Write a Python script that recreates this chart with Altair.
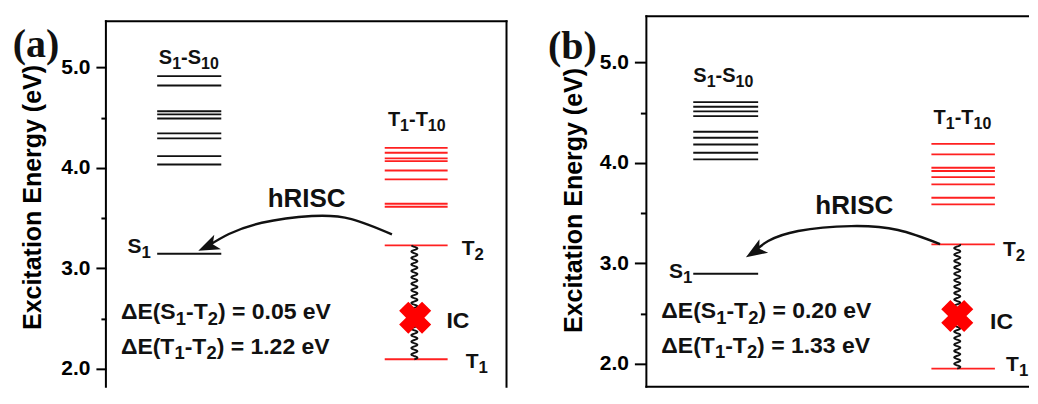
import re
import altair as alt
import numpy as np
import pandas as pd

# ---------------- data (eV) ----------------
# panel (a)
a_S_upper = [4.913, 4.820, 4.564, 4.532, 4.492, 4.343, 4.293, 4.117, 4.034]
a_S1 = 3.145
a_T_upper = [4.199, 4.150, 4.094, 4.067, 3.974, 3.885, 3.642, 3.612]
a_T2 = 3.228
a_T1 = 2.094
a_dE = ["ΔE(S_1-T_2) = 0.05 eV", "ΔE(T_1-T_2) = 1.22 eV"]

# panel (b)
b_S_upper = [4.604, 4.558, 4.512, 4.465, 4.309, 4.249, 4.183, 4.100, 4.034]
b_S1 = 2.896
b_T_upper = [4.189, 4.084, 3.951, 3.918, 3.858, 3.785, 3.652, 3.586]
b_T2 = 3.188
b_T1 = 1.951
b_dE = ["ΔE(S_1-T_2) = 0.20 eV", "ΔE(T_1-T_2) = 1.33 eV"]

tick_all = [2.0, 2.5, 3.0, 3.5, 4.0, 4.5, 5.0]
axis_title = "Excitation Energy (eV)"

FONT = "Liberation Sans, Arial, sans-serif"
SERIF = "Liberation Serif, Times New Roman, serif"
BLACK = "#111111"
RED = "#ff2020"
PX_PER_UNIT = 40.1
HEIGHT = 371
SUB = 0.8
FRAME_TOP = 5.46

ARROW_HEAD = "M0,-1L0.72,0.9L0,0.42L-0.72,0.9Z"

# Arial-Bold advance widths (em) used to place subscript pieces
AW = {".": .278, " ": .278, "-": .333, "(": .333, ")": .333, "=": .584,
      "E": .667, "S": .667, "T": .611, "I": .278, "C": .722, "R": .722,
      "h": .611, "e": .556, "V": .667, "v": .556, "Δ": .722}


def seg_w(s, size):
    return sum(AW.get(c, .556) for c in s) * size


def parse(s):
    parts = re.split(r"_(\d+)", s)
    segs = []
    for k, p in enumerate(parts):
        if p:
            segs.append((p, k % 2 == 1))
    return segs


def make_panel(S_upper, S1, T_upper, T2, T1, dE, lay):
    width = lay["width"]
    xmax = width / PX_PER_UNIT
    ybot = lay["ydom"][0]
    xscale = alt.Scale(domain=[0, xmax], nice=False, zero=False)
    yscale = alt.Scale(domain=lay["ydom"], nice=False, zero=False)
    yaxis = alt.Axis(
        values=tick_all,
        labelExpr="datum.value % 1 == 0 ? format(datum.value, '.1f') : ''",
        tickSize={"condition": {"test": "datum.value % 1 == 0", "value": lay["tick"]},
                  "value": lay["tick"] / 2},
        tickWidth=2, tickColor="black", domain=False,
        labelFont=FONT, labelFontSize=21, labelFontWeight="bold",
        labelColor="black", labelPadding=lay["labpad"],
        title=axis_title, titleFont=FONT, titleFontSize=25,
        titleFontWeight="bold", titleColor="black",
        titleX=-60, titleY=lay["titleY"], grid=False,
    )
    X = lambda f: alt.X(f, scale=xscale, axis=None)
    Y = lambda f: alt.Y(f, scale=yscale, axis=yaxis)

    # frame (drawn as rules so each panel can show only the edges seen in the figure)
    hz = [dict(x=0, x2=xmax, y=FRAME_TOP)]
    if lay["bottom_edge"]:
        hz.append(dict(x=0, x2=xmax, y=ybot))
    vt = [dict(x=0, y=ybot, y2=FRAME_TOP)]
    if lay["right_edge"]:
        vt.append(dict(x=xmax, y=ybot, y2=FRAME_TOP))
    frame_h = alt.Chart(pd.DataFrame(hz)).mark_rule(
        color="black", strokeWidth=2, strokeCap="square").encode(
        x=X("x:Q"), x2="x2:Q", y=Y("y:Q"))
    frame_v = alt.Chart(pd.DataFrame(vt)).mark_rule(
        color="black", strokeWidth=2, strokeCap="square").encode(
        x=X("x:Q"), y=Y("y:Q"), y2="y2:Q")

    rows = []
    for v in S_upper + [S1]:
        rows.append(dict(x=lay["sx"][0], x2=lay["sx"][1], y=v, kind="S"))
    for v in T_upper + [T2, T1]:
        rows.append(dict(x=lay["tx"][0], x2=lay["tx"][1], y=v, kind="T"))
    lev = pd.DataFrame(rows)
    levels = alt.Chart(lev).mark_rule(strokeWidth=1.9).encode(
        x=X("x:Q"), x2="x2:Q", y=Y("y:Q"),
        color=alt.Color("kind:N", scale=alt.Scale(domain=["S", "T"], range=[BLACK, RED]),
                        legend=None),
    )

    # wavy internal-conversion connector from T2 down to T1
    yy = np.linspace(T1, T2, 300)
    xx = lay["wx"] + 0.075 * np.sin(2 * np.pi * (yy - T1) / 0.064)
    wave = alt.Chart(pd.DataFrame({"x": xx, "y": yy, "i": np.arange(len(yy))})).mark_line(
        color=BLACK, strokeWidth=1.9).encode(x=X("x:Q"), y=Y("y:Q"), order="i:Q")

    cross = alt.Chart(pd.DataFrame({"x": [lay["cross"][0]], "y": [lay["cross"][1]]})).mark_point(
        shape="cross", angle=45, size=1050, filled=True, color="#ff0000", opacity=1,
        strokeWidth=0).encode(x=X("x:Q"), y=Y("y:Q"))

    ax, ay = lay["arrow"]
    arc = alt.Chart(pd.DataFrame({"x": ax, "y": ay, "i": range(len(ax))})).mark_line(
        color=BLACK, strokeWidth=2.4, interpolate="natural").encode(
        x=X("x:Q"), y=Y("y:Q"), order="i:Q")
    hx, hy, hang = lay["head"]
    head = alt.Chart(pd.DataFrame({"x": [hx], "y": [hy]})).mark_point(
        shape=ARROW_HEAD, angle=hang, size=500, filled=True, color=BLACK, opacity=1,
        strokeWidth=0).encode(x=X("x:Q"), y=Y("y:Q"))

    def rich(x, y, s, size, align="left"):
        segs = parse(s)
        widths = [seg_w(t, size * SUB if sub else size) for t, sub in segs]
        total = sum(widths)
        off = {"left": 0.0, "center": -total / 2, "right": -total}[align]
        out = []
        for (t, sub), w in zip(segs, widths):
            fs = size * SUB if sub else size
            out.append(alt.Chart(pd.DataFrame({"x": [x], "y": [y], "t": [t]})).mark_text(
                font=FONT, fontSize=fs, fontWeight="bold", color=BLACK, align="left",
                baseline="alphabetic", dx=off, dy=(0.24 * size if sub else 0)).encode(
                x=X("x:Q"), y=Y("y:Q"), text="t:N"))
            off += w
        return out

    texts = []
    texts += rich(*lay["t_S"], "S_1-S_10", 20, "center")
    texts += rich(*lay["t_T"], "T_1-T_10", 20, "center")
    texts += rich(*lay["t_h"], "hRISC", 26, "center")
    texts += rich(*lay["t_S1"], "S_1", 21, "right")
    texts += rich(*lay["t_T2"], "T_2", 21)
    texts += rich(*lay["t_IC"], "IC", 23)
    texts += rich(*lay["t_T1"], "T_1", 21)
    texts += rich(lay["t_dE"][0], lay["t_dE"][1], dE[0], 23)
    texts += rich(lay["t_dE"][0], lay["t_dE"][2], dE[1], 23)

    panel_label = alt.Chart(pd.DataFrame({"t": [lay["label"]]})).mark_text(
        font=SERIF, fontSize=40, fontWeight="bold", color=BLACK, align="center",
        baseline="alphabetic").encode(
        x=alt.value(lay["lab_xy"][0]), y=alt.value(lay["lab_xy"][1]), text="t:N")

    layers = [frame_h, frame_v, levels, wave, cross, arc, head] + texts + [panel_label]
    return alt.layer(*layers).properties(
        width=width, height=HEIGHT,
        view=alt.ViewBackground(stroke="transparent"))


lay_a = dict(
    width=401, tick=10, labpad=6, titleY=181, ydom=[1.82, 5.51],
    bottom_edge=False, right_edge=True,
    sx=(1.28, 2.88), tx=(6.96, 8.53), wx=7.70, cross=(7.72, 2.508),
    arrow=([7.14, 6.13, 5.14, 3.89, 3.07, 2.56], [3.338, 3.490, 3.520, 3.453, 3.341, 3.225]),
    head=(2.56, 3.220, 245.5),
    t_S=(2.07, 5.032), t_T=(7.76, 4.415), t_h=(5.01, 3.609), t_S1=(1.12, 3.155),
    t_T2=(8.88, 3.132), t_IC=(8.50, 2.405), t_T1=(8.98, 2.007), t_dE=(0.374, 2.495, 2.147),
    label="(a)", lab_xy=(-70, 41),
)
lay_b = dict(
    width=382, tick=12, labpad=6, titleY=184, ydom=[1.77, 5.46],
    bottom_edge=True, right_edge=False,
    sx=(1.17, 2.79), tx=(7.115, 8.70), wx=7.76, cross=(7.76, 2.475),
    arrow=([7.33, 6.28, 5.11, 3.79, 3.04, 2.72], [3.191, 3.331, 3.370, 3.321, 3.221, 3.125]),
    head=(2.72, 3.119, 237.4),
    t_S=(1.92, 4.806), t_T=(7.89, 4.388), t_h=(5.19, 3.490), t_S1=(1.15, 2.853),
    t_T2=(8.90, 3.072), t_IC=(8.58, 2.346), t_T1=(8.98, 1.928), t_dE=(0.374, 2.455, 2.107),
    label="(b)", lab_xy=(-74, 43),
)

pa = make_panel(a_S_upper, a_S1, a_T_upper, a_T2, a_T1, a_dE, lay_a)
pb = make_panel(b_S_upper, b_S1, b_T_upper, b_T2, b_T1, b_dE, lay_b)

chart = alt.hconcat(pa, pb, spacing=39).properties(
    padding={"left": 4, "top": 6, "right": 0, "bottom": 0}
).configure_view(stroke="transparent")

chart.save("out.html", embed_options={"renderer": "svg", "actions": False})
